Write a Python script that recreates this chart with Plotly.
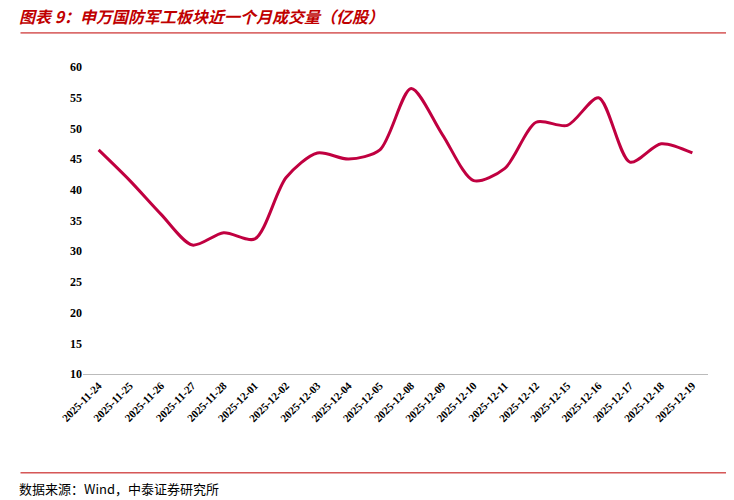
import plotly.graph_objects as go

dates = ["2025-11-24","2025-11-25","2025-11-26","2025-11-27","2025-11-28","2025-12-01","2025-12-02","2025-12-03","2025-12-04","2025-12-05","2025-12-08","2025-12-09","2025-12-10","2025-12-11","2025-12-12","2025-12-15","2025-12-16","2025-12-17","2025-12-18","2025-12-19"]
volume = [46.5,41.5,36,31,33,32,42,46,45,46.5,56.5,49,41.5,43.5,51,50.5,55,44.5,47.5,46]
yticks = [10,15,20,25,30,35,40,45,50,55,60]

fig = go.Figure(go.Scatter(x=dates, y=volume, mode="lines",
    line=dict(color="#C00040", width=3, shape="spline", smoothing=0.8)))
fig.update_layout(
    width=734, height=500, plot_bgcolor="white", paper_bgcolor="white",
    margin=dict(l=75, r=34, t=59, b=134), showlegend=False,
    font=dict(family="Liberation Serif, serif", color="#000"),
    xaxis=dict(type="category", tickangle=-45, tickfont=dict(size=11, family="Liberation Serif", weight="bold"),
               showline=True, linecolor="#BBBBBB", ticks="", showgrid=False, range=[-0.5, 19.5]),
    yaxis=dict(range=[10, 60], tickvals=yticks, showgrid=False, showline=False, ticks="",
               tickfont=dict(size=12, family="Liberation Serif", weight="bold")),
    shapes=[
        dict(type="line", xref="paper", yref="paper", x0=-0.1, x1=1.05, y0=1.111, y1=1.111, line=dict(color="#C00000", width=1)),
        dict(type="line", xref="paper", yref="paper", x0=-0.1, x1=1.05, y0=-0.322, y1=-0.322, line=dict(color="#C00000", width=1)),
    ],
    annotations=[
        dict(text="<b><i>图表 9：申万国防军工板块近一个月成交量（亿股）</i></b>", xref="paper", yref="paper",
             x=-0.105, y=1.12, xanchor="left", yanchor="bottom", showarrow=False,
             font=dict(size=16, color="#C00000", family="Noto Sans CJK SC")),
        dict(text="数据来源：Wind，中泰证券研究所", xref="paper", yref="paper",
             x=-0.105, y=-0.335, xanchor="left", yanchor="top", showarrow=False,
             font=dict(size=13, color="#000", family="Noto Sans CJK SC")),
    ],
)
fig.write_html("out.html")
